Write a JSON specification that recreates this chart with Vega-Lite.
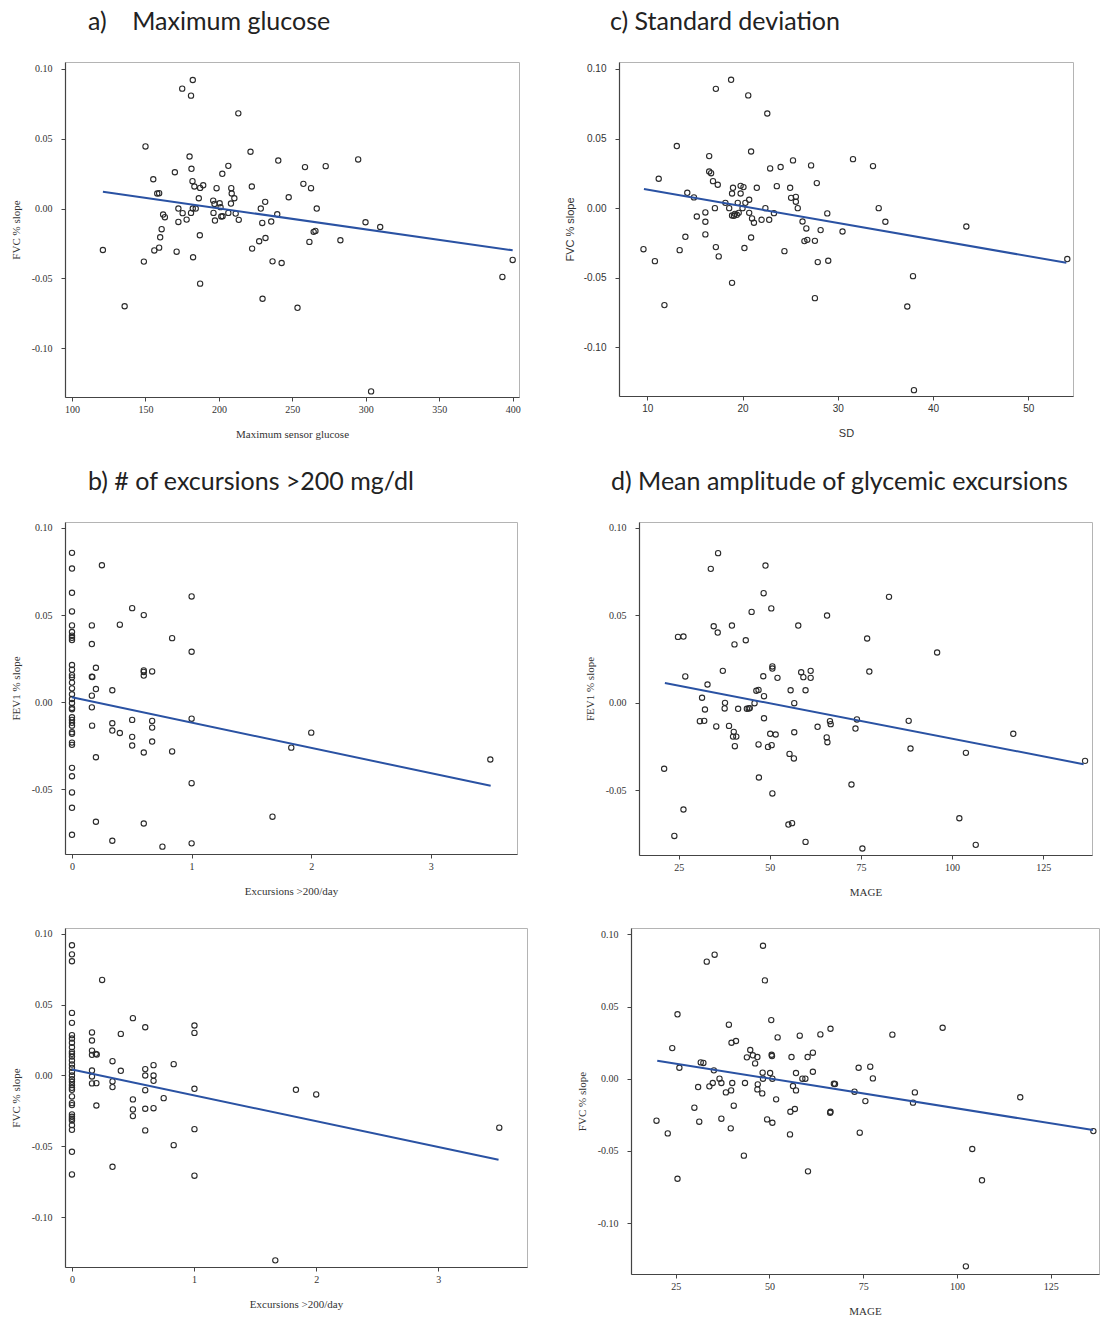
{
  "$schema": "https://vega.github.io/schema/vega-lite/v6.json",
  "padding": {"left": 9, "top": 9, "right": 0, "bottom": 0},
  "background": "white",
  "spacing": 29,
  "config": {
    "view": {"stroke": "#b4b4b4", "strokeWidth": 1},
    "axis": {"domainColor": "#444", "domainWidth": 1.2, "tickColor": "#444", "grid": false, "labelFont": "Liberation Serif", "titleFont": "Liberation Serif", "labelFontSize": 10, "titleFontSize": 11, "titleFontWeight": "normal", "labelColor": "#333", "titleColor": "#333", "tickSize": 4},
    "axisY": {"labelPadding": 9, "minExtent": 30, "maxExtent": 30, "titlePadding": 14},
    "axisX": {"labelPadding": 3, "titlePadding": 14},
    "title": {"font": "Lato", "fontSize": 25, "fontWeight": "normal", "anchor": "start", "color": "#222", "frame": "group", "offset": 27}
  },
  "datasets": {
    "a_pts": [
      {"x":121,"y":-0.0297},{"x":135.8,"y":-0.070},{"x":148.9,"y":-0.038},{"x":150,"y":0.0445},{"x":155.3,"y":0.021},{"x":156,"y":-0.030},{"x":158,"y":0.0108},{"x":159.3,"y":0.011},{"x":159.3,"y":-0.028},{"x":160,"y":-0.0206},{"x":161,"y":-0.0148},{"x":162,"y":-0.0043},{"x":163.2,"y":-0.0062},{"x":170,"y":0.026},{"x":171.2,"y":-0.0309},{"x":172.4,"y":0.0},{"x":172.4,"y":-0.0096},{"x":175,"y":0.0859},{"x":175.3,"y":-0.0033},{"x":178,"y":-0.0079},{"x":180,"y":0.0373},{"x":181,"y":0.0809},{"x":181.3,"y":0.0285},{"x":181,"y":-0.0031},{"x":182.2,"y":0.0921},{"x":182,"y":0.0196},{"x":182.2,"y":0.0},{"x":182.4,"y":-0.0349},{"x":183.3,"y":0.0158},{"x":184.2,"y":0.0},{"x":186.3,"y":0.0074},{"x":187,"y":-0.0191},{"x":187.2,"y":-0.0538},{"x":187.2,"y":0.0148},{"x":189.3,"y":0.0167},{"x":196.1,"y":0.0057},{"x":196.3,"y":-0.0031},{"x":197,"y":0.0033},{"x":197.3,"y":-0.0086},{"x":198.4,"y":0.0146},{"x":200.5,"y":0.0038},{"x":201.1,"y":0.001},{"x":201.6,"y":-0.0057},{"x":202.3,"y":0.0249},{"x":202.5,"y":-0.0055},{"x":206.4,"y":-0.0031},{"x":206.4,"y":0.0306},{"x":208.2,"y":0.0036},{"x":208.4,"y":0.0146},{"x":208.7,"y":0.0108},{"x":210.5,"y":0.0074},{"x":211.4,"y":-0.0036},{"x":213.2,"y":0.0682},{"x":213.5,"y":-0.0081},{"x":221.5,"y":0.0407},{"x":222.4,"y":0.0158},{"x":222.6,"y":-0.0287},{"x":227.4,"y":-0.0234},{"x":228.5,"y":0.0},{"x":229.5,"y":-0.0103},{"x":229.7,"y":-0.0646},{"x":231.5,"y":0.0048},{"x":231.7,"y":-0.0211},{"x":235.6,"y":-0.0093},{"x":236.5,"y":-0.0378},{"x":239.7,"y":-0.0041},{"x":240.4,"y":0.0344},{"x":242.7,"y":-0.039},{"x":247.5,"y":0.0081},{"x":253.5,"y":-0.0711},{"x":257.5,"y":0.0177},{"x":258.6,"y":0.0297},{"x":261.6,"y":-0.0239},{"x":262.7,"y":0.0146},{"x":264.5,"y":-0.0167},{"x":265.7,"y":-0.016},{"x":266.6,"y":0.0},{"x":272.7,"y":0.0304},{"x":282.7,"y":-0.0227},{"x":294.8,"y":0.0352},{"x":299.8,"y":-0.0098},{"x":303.6,"y":-0.131},{"x":309.8,"y":-0.0132},{"x":393,"y":-0.049},{"x":400,"y":-0.0368}
    ],
    "a_line": [{"x1":121,"y1":0.012,"x2":400,"y2":-0.0299}],
    "c_pts": [
      {"x":9.6,"y":-0.0295},{"x":10.8,"y":-0.0381},{"x":11.2,"y":0.0211},{"x":11.8,"y":-0.0697},{"x":13.1,"y":0.0446},{"x":13.4,"y":-0.0302},{"x":14.0,"y":-0.0206},{"x":14.2,"y":0.011},{"x":14.9,"y":0.0077},{"x":15.2,"y":-0.006},{"x":16.1,"y":-0.0031},{"x":16.1,"y":-0.0098},{"x":16.1,"y":-0.0189},{"x":16.5,"y":0.0374},{"x":16.5,"y":0.0263},{"x":16.7,"y":0.0251},{"x":16.9,"y":0.0194},{"x":17.1,"y":0.0},{"x":17.2,"y":0.0857},{"x":17.2,"y":-0.028},{"x":17.4,"y":0.0168},{"x":17.5,"y":-0.0347},{"x":18.2,"y":0.0038},{"x":18.6,"y":0.0},{"x":18.8,"y":0.0922},{"x":18.9,"y":-0.0537},{"x":18.9,"y":0.0105},{"x":19.0,"y":0.0146},{"x":18.9,"y":-0.0053},{"x":19.1,"y":-0.0055},{"x":19.2,"y":-0.0041},{"x":19.4,"y":-0.0048},{"x":19.6,"y":-0.0034},{"x":19.5,"y":0.0038},{"x":19.8,"y":0.0105},{"x":19.8,"y":0.016},{"x":20.0,"y":0.0},{"x":20.1,"y":0.0151},{"x":20.2,"y":-0.0287},{"x":20.3,"y":0.0038},{"x":20.6,"y":0.081},{"x":20.7,"y":0.006},{"x":20.7,"y":-0.0034},{"x":20.9,"y":0.0407},{"x":20.9,"y":-0.0211},{"x":21.0,"y":-0.0074},{"x":21.2,"y":-0.0105},{"x":21.5,"y":0.0146},{"x":22.0,"y":-0.0084},{"x":22.4,"y":0.0},{"x":22.6,"y":0.068},{"x":22.8,"y":-0.0084},{"x":22.9,"y":0.0285},{"x":23.3,"y":-0.0036},{"x":23.6,"y":0.0158},{"x":24.0,"y":0.0295},{"x":24.4,"y":-0.0309},{"x":25.0,"y":0.0146},{"x":25.1,"y":0.0074},{"x":25.3,"y":0.0343},{"x":25.6,"y":0.0081},{"x":25.6,"y":0.0046},{"x":25.8,"y":0.0},{"x":26.3,"y":-0.0096},{"x":26.5,"y":-0.0237},{"x":26.7,"y":-0.0146},{"x":26.8,"y":-0.0228},{"x":27.2,"y":0.0307},{"x":27.6,"y":-0.0235},{"x":27.6,"y":-0.0647},{"x":27.8,"y":0.018},{"x":27.9,"y":-0.0388},{"x":28.2,"y":-0.0158},{"x":28.9,"y":-0.0038},{"x":29.0,"y":-0.0378},{"x":30.5,"y":-0.0168},{"x":31.6,"y":0.0352},{"x":33.7,"y":0.0302},{"x":34.3,"y":0.0},{"x":35.0,"y":-0.0098},{"x":43.5,"y":-0.0132},{"x":37.9,"y":-0.0489},{"x":37.3,"y":-0.0707},{"x":38.0,"y":-0.1308},{"x":54.1,"y":-0.0366}
    ],
    "c_line": [{"x1":9.65,"y1":0.0137,"x2":54.0,"y2":-0.0393}],
    "b_pts": [
      {"x":0,"y":0.0857},{"x":0,"y":0.0767},{"x":0,"y":0.0628},{"x":0,"y":0.0521},{"x":0,"y":0.0441},{"x":0,"y":0.0403},{"x":0,"y":0.0382},{"x":0,"y":0.037},{"x":0,"y":0.0357},{"x":0,"y":0.0214},{"x":0,"y":0.0187},{"x":0,"y":0.0156},{"x":0,"y":0.0143},{"x":0,"y":0.0113},{"x":0,"y":0.008},{"x":0,"y":0.0046},{"x":0,"y":0.0019},{"x":0,"y":-0.0004},{"x":0,"y":-0.0032},{"x":0,"y":-0.004},{"x":0,"y":-0.0086},{"x":0,"y":-0.0101},{"x":0,"y":-0.0118},{"x":0,"y":-0.0134},{"x":0,"y":-0.0172},{"x":0,"y":-0.0181},{"x":0,"y":-0.0231},{"x":0,"y":-0.0244},{"x":0,"y":-0.0376},{"x":0,"y":-0.0424},{"x":0,"y":-0.0517},{"x":0,"y":-0.0605},{"x":0,"y":-0.076},
      {"x":0.166,"y":0.0441},{"x":0.166,"y":0.0334},{"x":0.166,"y":0.0147},{"x":0.17,"y":0.0145},{"x":0.166,"y":0.0038},{"x":0.166,"y":-0.0029},{"x":0.168,"y":-0.0134},{"x":0.2,"y":0.0198},{"x":0.2,"y":0.0076},{"x":0.2,"y":-0.0315},{"x":0.2,"y":-0.0685},{"x":0.25,"y":0.0786},{"x":0.337,"y":0.0069},{"x":0.337,"y":-0.012},{"x":0.337,"y":-0.0162},{"x":0.337,"y":-0.0794},{"x":0.4,"y":0.0445},{"x":0.4,"y":-0.0176},{"x":0.503,"y":0.054},{"x":0.503,"y":-0.0101},{"x":0.503,"y":-0.0198},{"x":0.503,"y":-0.0248},{"x":0.6,"y":0.05},{"x":0.6,"y":0.0183},{"x":0.6,"y":0.0174},{"x":0.6,"y":0.0153},{"x":0.6,"y":-0.0288},{"x":0.6,"y":-0.0695},{"x":0.67,"y":0.0177},{"x":0.67,"y":-0.0107},{"x":0.67,"y":-0.0145},{"x":0.67,"y":-0.0225},{"x":0.756,"y":-0.0828},{"x":0.837,"y":0.0368},{"x":0.837,"y":-0.0282},{"x":1.0,"y":0.0607},{"x":1.0,"y":0.029},{"x":1.0,"y":-0.0094},{"x":1.0,"y":-0.0464},{"x":1.0,"y":-0.0809},{"x":1.676,"y":-0.0656},{"x":1.833,"y":-0.026},{"x":2.0,"y":-0.0174},{"x":3.497,"y":-0.0328}
    ],
    "b_line": [{"x1":0,"y1":0.0029,"x2":3.5,"y2":-0.0479}],
    "d_pts": [
      {"x":21.0,"y":-0.0377},{"x":23.8,"y":-0.0761},{"x":24.8,"y":0.0377},{"x":26.3,"y":0.0379},{"x":26.3,"y":-0.061},{"x":26.8,"y":0.0151},{"x":31.4,"y":0.0029},{"x":30.8,"y":-0.0105},{"x":32.0,"y":-0.0103},{"x":32.2,"y":-0.0038},{"x":32.9,"y":0.0105},{"x":33.8,"y":0.0766},{"x":34.6,"y":0.0438},{"x":35.3,"y":-0.0135},{"x":35.7,"y":0.0402},{"x":35.8,"y":0.0856},{"x":37.1,"y":0.0183},{"x":37.7,"y":0.0},{"x":37.6,"y":-0.0032},{"x":38.8,"y":-0.0132},{"x":39.6,"y":0.0442},{"x":40.1,"y":-0.0166},{"x":39.9,"y":-0.0193},{"x":40.8,"y":-0.0193},{"x":40.3,"y":0.0334},{"x":40.4,"y":-0.0248},{"x":41.3,"y":-0.0034},{"x":43.4,"y":0.0358},{"x":43.7,"y":-0.0034},{"x":44.2,"y":-0.0032},{"x":44.5,"y":-0.003},{"x":45.0,"y":0.052},{"x":45.8,"y":-0.0002},{"x":46.3,"y":0.0069},{"x":46.9,"y":0.0074},{"x":46.9,"y":-0.0238},{"x":47.0,"y":-0.0427},{"x":48.2,"y":0.0152},{"x":48.3,"y":0.0627},{"x":48.4,"y":0.0038},{"x":48.4,"y":-0.0088},{"x":48.8,"y":0.0785},{"x":49.5,"y":-0.0252},{"x":50.1,"y":-0.0177},{"x":50.5,"y":-0.0242},{"x":50.4,"y":0.054},{"x":50.7,"y":0.0208},{"x":50.7,"y":0.0196},{"x":50.7,"y":-0.0518},{"x":51.6,"y":-0.0181},{"x":52.1,"y":0.0143},{"x":55.1,"y":-0.0696},{"x":56.1,"y":-0.0688},{"x":55.4,"y":-0.0292},{"x":55.7,"y":0.0072},{"x":56.6,"y":-0.0318},{"x":56.7,"y":-0.0168},{"x":56.7,"y":-0.0002},{"x":57.8,"y":0.0442},{"x":58.6,"y":0.0175},{"x":59.2,"y":0.0147},{"x":59.8,"y":0.0072},{"x":59.8,"y":-0.0795},{"x":61.2,"y":0.0183},{"x":61.2,"y":0.0143},{"x":63.1,"y":-0.0137},{"x":65.7,"y":0.0499},{"x":65.6,"y":-0.0198},{"x":65.8,"y":-0.0225},{"x":66.5,"y":-0.0105},{"x":66.7,"y":-0.0122},{"x":82.7,"y":0.0606},{"x":76.7,"y":0.0368},{"x":77.3,"y":0.0179},{"x":95.9,"y":0.0288},{"x":73.9,"y":-0.0095},{"x":73.5,"y":-0.0147},{"x":72.4,"y":-0.0467},{"x":75.4,"y":-0.0833},{"x":88.1,"y":-0.0103},{"x":88.6,"y":-0.0261},{"x":102.0,"y":-0.066},{"x":103.8,"y":-0.0286},{"x":106.5,"y":-0.0812},{"x":116.8,"y":-0.0177},{"x":136.5,"y":-0.0332}
    ],
    "d_line": [{"x1":21.2,"y1":0.0114,"x2":136.1,"y2":-0.0351}],
    "e_pts": [
      {"x":0,"y":0.092},{"x":0,"y":0.0856},{"x":0,"y":0.0807},{"x":0,"y":0.0442},{"x":0,"y":0.0372},{"x":0,"y":0.0285},{"x":0,"y":0.0261},{"x":0,"y":0.0231},{"x":0,"y":0.02},{"x":0,"y":0.0167},{"x":0,"y":0.0153},{"x":0,"y":0.0134},{"x":0,"y":0.0106},{"x":0,"y":0.0078},{"x":0,"y":0.0054},{"x":0,"y":0.0026},{"x":0,"y":0.0},{"x":0,"y":-0.0026},{"x":0,"y":-0.0045},{"x":0,"y":-0.0068},{"x":0,"y":-0.0087},{"x":0,"y":-0.0101},{"x":0,"y":-0.0148},{"x":0,"y":-0.0195},{"x":0,"y":-0.0209},{"x":0,"y":-0.0275},{"x":0,"y":-0.0292},{"x":0,"y":-0.0306},{"x":0,"y":-0.0318},{"x":0,"y":-0.0351},{"x":0,"y":-0.0384},{"x":0,"y":-0.0539},{"x":0,"y":-0.0699},
      {"x":0.164,"y":0.0304},{"x":0.164,"y":0.0247},{"x":0.164,"y":0.0176},{"x":0.164,"y":0.0146},{"x":0.164,"y":0.0035},{"x":0.164,"y":-0.0007},{"x":0.164,"y":-0.0056},{"x":0.195,"y":0.0153},{"x":0.203,"y":0.0148},{"x":0.2,"y":-0.0054},{"x":0.2,"y":-0.0212},{"x":0.247,"y":0.0675},{"x":0.332,"y":0.0101},{"x":0.332,"y":-0.0042},{"x":0.332,"y":-0.0082},{"x":0.332,"y":-0.0645},{"x":0.4,"y":0.0294},{"x":0.4,"y":0.0033},{"x":0.499,"y":0.0405},{"x":0.499,"y":-0.0169},{"x":0.499,"y":-0.024},{"x":0.499,"y":-0.0287},{"x":0.6,"y":0.0341},{"x":0.6,"y":0.0045},{"x":0.6,"y":0.0},{"x":0.6,"y":-0.0104},{"x":0.6,"y":-0.0235},{"x":0.6,"y":-0.0388},{"x":0.668,"y":0.0073},{"x":0.668,"y":0.0},{"x":0.668,"y":-0.0038},{"x":0.668,"y":-0.0231},{"x":0.751,"y":-0.016},{"x":0.833,"y":0.008},{"x":0.833,"y":-0.0492},{"x":1.003,"y":0.0353},{"x":1.003,"y":0.0301},{"x":1.003,"y":-0.0094},{"x":1.003,"y":-0.0379},{"x":1.003,"y":-0.0708},{"x":1.665,"y":-0.1306},{"x":1.834,"y":-0.0101},{"x":2.0,"y":-0.0134},{"x":3.499,"y":-0.0369}
    ],
    "e_line": [{"x1":0,"y1":0.0042,"x2":3.493,"y2":-0.0595}],
    "f_pts": [
      {"x":19.9,"y":-0.0291},{"x":22.9,"y":-0.0379},{"x":24.1,"y":0.0212},{"x":25.5,"y":0.0446},{"x":25.5,"y":-0.0693},{"x":26.0,"y":0.0076},{"x":30.0,"y":-0.0201},{"x":31.0,"y":-0.0058},{"x":31.3,"y":-0.0298},{"x":31.7,"y":0.0113},{"x":32.4,"y":0.0109},{"x":33.3,"y":0.0811},{"x":34.0,"y":-0.0053},{"x":34.9,"y":-0.003},{"x":35.2,"y":0.0058},{"x":35.4,"y":0.0859},{"x":36.7,"y":0.0},{"x":37.2,"y":-0.003},{"x":37.2,"y":-0.0277},{"x":38.4,"y":-0.0095},{"x":39.2,"y":0.0374},{"x":39.7,"y":-0.0344},{"x":39.8,"y":-0.0081},{"x":40.1,"y":-0.003},{"x":39.9,"y":0.0249},{"x":40.5,"y":-0.0187},{"x":41.1,"y":0.0261},{"x":43.2,"y":-0.0533},{"x":43.5,"y":-0.003},{"x":44.0,"y":0.0148},{"x":44.9,"y":0.0199},{"x":45.6,"y":0.0162},{"x":46.2,"y":0.0106},{"x":46.8,"y":0.015},{"x":46.9,"y":-0.0039},{"x":46.8,"y":-0.0074},{"x":48.1,"y":-0.0102},{"x":48.2,"y":0.0042},{"x":48.3,"y":0.0},{"x":48.3,"y":0.0921},{"x":48.8,"y":0.0681},{"x":49.4,"y":-0.0282},{"x":50.2,"y":0.0039},{"x":50.5,"y":0.0406},{"x":50.6,"y":0.0166},{"x":50.7,"y":0.0157},{"x":50.8,"y":0.0},{"x":50.8,"y":-0.0305},{"x":51.8,"y":-0.0143},{"x":52.2,"y":0.0286},{"x":55.5,"y":-0.0386},{"x":55.6,"y":-0.0229},{"x":55.9,"y":0.015},{"x":56.3,"y":-0.0051},{"x":56.8,"y":-0.021},{"x":57.1,"y":0.0039},{"x":57.1,"y":-0.0081},{"x":58.1,"y":0.0298},{"x":58.8,"y":0.0},{"x":59.6,"y":0.0},{"x":60.2,"y":0.015},{"x":60.3,"y":-0.0642},{"x":61.6,"y":0.018},{"x":61.6,"y":0.0048},{"x":63.6,"y":0.0307},{"x":66.3,"y":0.0346},{"x":66.3,"y":-0.0229},{"x":66.2,"y":-0.0236},{"x":67.2,"y":-0.0035},{"x":67.5,"y":-0.0037},{"x":82.8,"y":0.0305},{"x":96.2,"y":0.0353},{"x":73.8,"y":0.0076},{"x":76.9,"y":0.0083},{"x":77.6,"y":0.0002},{"x":72.7,"y":-0.009},{"x":75.6,"y":-0.0155},{"x":74.1,"y":-0.0374},{"x":88.8,"y":-0.0095},{"x":88.3,"y":-0.0166},{"x":116.9,"y":-0.0129},{"x":104.1,"y":-0.0487},{"x":106.7,"y":-0.0704},{"x":102.4,"y":-0.13},{"x":136.4,"y":-0.0363}
    ],
    "f_line": [{"x1":20.1,"y1":0.0125,"x2":136.3,"y2":-0.0356}]
  },
  "vconcat": [
    {
      "spacing": 42,
      "hconcat": [
        {
          "title": {"text": "a)\u00a0\u00a0\u00a0 Maximum glucose", "dx": 23},
          "width": 454, "height": 335,
          "layer": [
            {"data": {"name": "a_pts"}, "mark": {"type": "point", "shape": "circle", "filled": false, "size": 28, "strokeWidth": 1.1, "color": "#2a2a2a", "opacity": 1},
             "encoding": {
               "x": {"field": "x", "type": "quantitative", "scale": {"domain": [95.2, 404.3], "nice": false, "zero": false}, "axis": {"title": "Maximum sensor glucose", "values": [100,150,200,250,300,350,400], "format": "d"}},
               "y": {"field": "y", "type": "quantitative", "scale": {"domain": [-0.135, 0.105], "nice": false, "zero": false}, "axis": {"title": "FVC % slope", "values": [-0.1,-0.05,0,0.05,0.1], "labelExpr": "datum.value < 0 ? '-' + format(-datum.value, '.2f') : format(datum.value, '.2f')"}}
             }},
            {"data": {"name": "a_line"}, "mark": {"type": "rule", "color": "#2a52a3", "strokeWidth": 2},
             "encoding": {"x": {"field": "x1", "type": "quantitative"}, "y": {"field": "y1", "type": "quantitative"}, "x2": {"field": "x2"}, "y2": {"field": "y2"}}}
          ]
        },
        {
          "title": {"text": "c) Standard deviation", "dx": -9},
          "width": 454, "height": 334,
          "layer": [
            {"data": {"name": "c_pts"}, "mark": {"type": "point", "shape": "circle", "filled": false, "size": 28, "strokeWidth": 1.1, "color": "#2a2a2a", "opacity": 1},
             "encoding": {
               "x": {"field": "x", "type": "quantitative", "scale": {"domain": [7.03, 54.7], "nice": false, "zero": false}, "axis": {"title": "SD", "values": [10,20,30,40,50], "format": "d", "labelFont": "Liberation Sans", "titleFont": "Liberation Sans"}},
               "y": {"field": "y", "type": "quantitative", "scale": {"domain": [-0.135, 0.105], "nice": false, "zero": false}, "axis": {"title": "FVC % slope", "values": [-0.1,-0.05,0,0.05,0.1], "labelFont": "Liberation Sans", "titleFont": "Liberation Sans", "labelExpr": "datum.value < 0 ? '-' + format(-datum.value, '.2f') : format(datum.value, '.2f')"}}
             }},
            {"data": {"name": "c_line"}, "mark": {"type": "rule", "color": "#2a52a3", "strokeWidth": 2},
             "encoding": {"x": {"field": "x1", "type": "quantitative"}, "y": {"field": "y1", "type": "quantitative"}, "x2": {"field": "x2"}, "y2": {"field": "y2"}}}
          ]
        }
      ]
    },
    {
      "spacing": 65,
      "hconcat": [
        {
          "title": {"text": "b) # of excursions >200 mg/dl", "dx": 23},
          "width": 452, "height": 332,
          "layer": [
            {"data": {"name": "b_pts"}, "mark": {"type": "point", "shape": "circle", "filled": false, "size": 28, "strokeWidth": 1.1, "color": "#2a2a2a", "opacity": 1},
             "encoding": {
               "x": {"field": "x", "type": "quantitative", "scale": {"domain": [-0.0585, 3.72], "nice": false, "zero": false}, "axis": {"title": "Excursions >200/day", "values": [0,1,2,3], "format": "d"}},
               "y": {"field": "y", "type": "quantitative", "scale": {"domain": [-0.087, 0.1034], "nice": false, "zero": false}, "axis": {"title": "FEV1 % slope", "values": [-0.05,0,0.05,0.1], "labelExpr": "datum.value < 0 ? '-' + format(-datum.value, '.2f') : format(datum.value, '.2f')"}}
             }},
            {"data": {"name": "b_line"}, "mark": {"type": "rule", "color": "#2a52a3", "strokeWidth": 2},
             "encoding": {"x": {"field": "x1", "type": "quantitative"}, "y": {"field": "y1", "type": "quantitative"}, "x2": {"field": "x2"}, "y2": {"field": "y2"}}}
          ]
        },
        {
          "title": {"text": "d) Mean amplitude of glycemic excursions", "dx": -28},
          "width": 453, "height": 333,
          "layer": [
            {"data": {"name": "d_pts"}, "mark": {"type": "point", "shape": "circle", "filled": false, "size": 28, "strokeWidth": 1.1, "color": "#2a2a2a", "opacity": 1},
             "encoding": {
               "x": {"field": "x", "type": "quantitative", "scale": {"domain": [14.1, 138.4], "nice": false, "zero": false}, "axis": {"title": "MAGE", "values": [25,50,75,100,125], "format": "d"}},
               "y": {"field": "y", "type": "quantitative", "scale": {"domain": [-0.087, 0.1034], "nice": false, "zero": false}, "axis": {"title": "FEV1 % slope", "values": [-0.05,0,0.05,0.1], "labelExpr": "datum.value < 0 ? '-' + format(-datum.value, '.2f') : format(datum.value, '.2f')"}}
             }},
            {"data": {"name": "d_line"}, "mark": {"type": "rule", "color": "#2a52a3", "strokeWidth": 2},
             "encoding": {"x": {"field": "x1", "type": "quantitative"}, "y": {"field": "y1", "type": "quantitative"}, "x2": {"field": "x2"}, "y2": {"field": "y2"}}}
          ]
        }
      ]
    },
    {
      "spacing": 47,
      "hconcat": [
        {
          "width": 462, "height": 339,
          "layer": [
            {"data": {"name": "e_pts"}, "mark": {"type": "point", "shape": "circle", "filled": false, "size": 28, "strokeWidth": 1.1, "color": "#2a2a2a", "opacity": 1},
             "encoding": {
               "x": {"field": "x", "type": "quantitative", "scale": {"domain": [-0.057, 3.726], "nice": false, "zero": false}, "axis": {"title": "Excursions >200/day", "values": [0,1,2,3], "format": "d"}},
               "y": {"field": "y", "type": "quantitative", "scale": {"domain": [-0.1353, 0.1042], "nice": false, "zero": false}, "axis": {"title": "FVC % slope", "values": [-0.1,-0.05,0,0.05,0.1], "labelExpr": "datum.value < 0 ? '-' + format(-datum.value, '.2f') : format(datum.value, '.2f')"}}
             }},
            {"data": {"name": "e_line"}, "mark": {"type": "rule", "color": "#2a52a3", "strokeWidth": 2},
             "encoding": {"x": {"field": "x1", "type": "quantitative"}, "y": {"field": "y1", "type": "quantitative"}, "x2": {"field": "x2"}, "y2": {"field": "y2"}}}
          ]
        },
        {
          "width": 468, "height": 346,
          "layer": [
            {"data": {"name": "f_pts"}, "mark": {"type": "point", "shape": "circle", "filled": false, "size": 28, "strokeWidth": 1.1, "color": "#2a2a2a", "opacity": 1},
             "encoding": {
               "x": {"field": "x", "type": "quantitative", "scale": {"domain": [13.1, 137.9], "nice": false, "zero": false}, "axis": {"title": "MAGE", "values": [25,50,75,100,125], "format": "d"}},
               "y": {"field": "y", "type": "quantitative", "scale": {"domain": [-0.1353, 0.1044], "nice": false, "zero": false}, "axis": {"title": "FVC % slope", "values": [-0.1,-0.05,0,0.05,0.1], "labelExpr": "datum.value < 0 ? '-' + format(-datum.value, '.2f') : format(datum.value, '.2f')"}}
             }},
            {"data": {"name": "f_line"}, "mark": {"type": "rule", "color": "#2a52a3", "strokeWidth": 2},
             "encoding": {"x": {"field": "x1", "type": "quantitative"}, "y": {"field": "y1", "type": "quantitative"}, "x2": {"field": "x2"}, "y2": {"field": "y2"}}}
          ]
        }
      ]
    }
  ]
}
